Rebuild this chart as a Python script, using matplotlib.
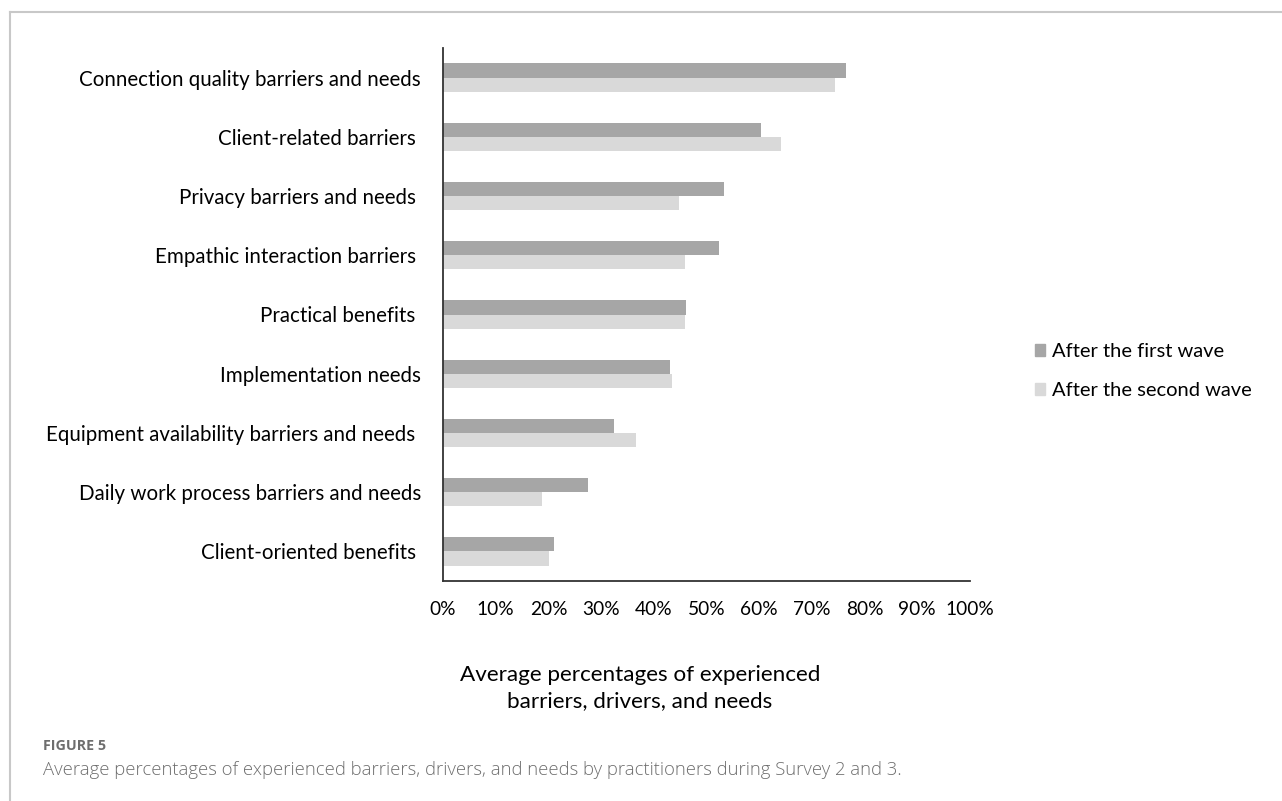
import matplotlib
matplotlib.use('Agg')
import matplotlib.pyplot as plt
from matplotlib.lines import Line2D
import numpy as np

categories = ['Connection quality barriers and needs',
              'Client-related barriers ',
              'Privacy barriers and needs ',
              'Empathic interaction barriers ',
              'Practical benefits ',
              'Implementation needs',
              'Equipment availability barriers and needs ',
              'Daily work process barriers and needs',
              'Client-oriented benefits ']
first_wave = [76.4, 60.4, 53.4, 52.4, 46.2, 43.0, 32.5, 27.5, 21.0]
second_wave = [74.3, 64.1, 44.8, 45.9, 45.9, 43.5, 36.6, 18.7, 20.2]
x_ticks = [0, 10, 20, 30, 40, 50, 60, 70, 80, 90, 100]
x_ticklabels = [f'{t}%' for t in x_ticks]
series_names = ['After the first wave', 'After the second wave']

DARK = '#a6a6a6'
LIGHT = '#d9d9d9'

plt.rcParams['font.family'] = ['Lato', 'DejaVu Sans']

fig = plt.figure(figsize=(12.82, 8.01), dpi=100)
ax = fig.add_axes([443 / 1282, 1 - 581 / 801, 527 / 1282, 533 / 801])

y = np.arange(len(categories))
h = 0.24
ax.barh(y - h / 2, first_wave, height=h, color=DARK, label=series_names[0])
ax.barh(y + h / 2, second_wave, height=h, color=LIGHT, label=series_names[1])

ax.set_ylim(len(categories) - 0.5, -0.5)
ax.set_xlim(0, 100)
ax.set_yticks(y)
ax.set_yticklabels(categories, fontsize=14.8)
ax.set_xticks(x_ticks)
ax.set_xticklabels(x_ticklabels, fontsize=13.8)
ax.tick_params(axis='both', length=0)
ax.tick_params(axis='y', pad=16)
ax.tick_params(axis='x', pad=14.5)
for s in ['top', 'right']:
    ax.spines[s].set_visible(False)
for s in ['left', 'bottom']:
    ax.spines[s].set_color('#333333')
    ax.spines[s].set_linewidth(1.3)

fig.text(640 / 1282, 1 - 688 / 801, 'Average percentages of experienced\nbarriers, drivers, and needs',
         ha='center', va='center', fontsize=16.2, linespacing=1.4)

handles = [plt.Rectangle((0, 0), 1, 1, color=DARK), plt.Rectangle((0, 0), 1, 1, color=LIGHT)]
fig.legend(handles, series_names, loc='center left', bbox_to_anchor=(1035 / 1282, 1 - 371 / 801),
           frameon=False, fontsize=14.5, handlelength=0.5, handleheight=0.5,
           handletextpad=0.35, labelspacing=1.1, borderpad=0, borderaxespad=0)

# frame lines of the figure panel
fig.add_artist(Line2D([10 / 1282, 1], [1 - 12 / 801, 1 - 12 / 801], color='#c8c8c8', lw=1.5))
fig.add_artist(Line2D([10 / 1282, 10 / 1282], [0, 1 - 12 / 801], color='#c8c8c8', lw=1.5))

fig.text(43 / 1282, 1 - 746 / 801, 'FIGURE 5', fontsize=10.3, color='#6e6e6e',
         fontweight='bold', va='center', family=['Open Sans', 'DejaVu Sans'])
fig.text(43 / 1282, 1 - 770 / 801,
         'Average percentages of experienced barriers, drivers, and needs by practitioners during Survey 2 and 3.',
         fontsize=13.3, color='#6e6e6e', va='center', family=['Open Sans', 'DejaVu Sans'],
         fontweight='light')

fig.savefig('out.png', dpi=100)
